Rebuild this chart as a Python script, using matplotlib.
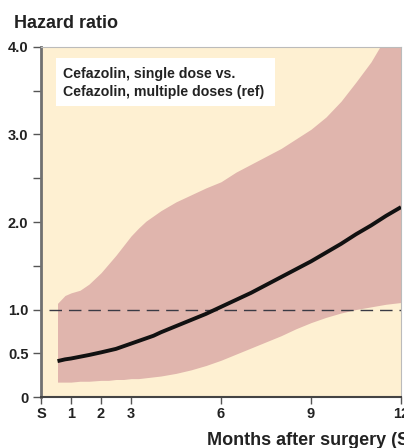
import matplotlib
matplotlib.use("Agg")
import matplotlib.pyplot as plt
from matplotlib.patches import Rectangle

# ---- data ----
months = [0.55, 0.8, 1.0, 1.3, 1.6, 2.0, 2.25, 2.5, 2.75, 3.0, 3.25, 3.5, 3.75, 4.0, 4.5, 5.0,
          5.5, 6.0, 6.5, 7.0, 7.5, 8.0, 8.5, 9.0, 9.5, 10.0, 10.5, 11.0, 11.5, 12.0]
hazard_ratio = [0.41, 0.43, 0.44, 0.46, 0.48, 0.51, 0.53, 0.55, 0.58, 0.61, 0.64, 0.67, 0.70,
                0.74, 0.81, 0.88, 0.95, 1.03, 1.11, 1.19, 1.28, 1.37, 1.46, 1.55, 1.65, 1.75,
                1.86, 1.96, 2.07, 2.17]
ci_lower = [0.17, 0.17, 0.17, 0.18, 0.18, 0.19, 0.19, 0.20, 0.20, 0.21, 0.21, 0.22, 0.23,
            0.24, 0.27, 0.31, 0.36, 0.42, 0.49, 0.56, 0.63, 0.70, 0.78, 0.85, 0.91, 0.96,
            1.00, 1.03, 1.06, 1.08]
ci_upper = [1.07, 1.16, 1.19, 1.22, 1.29, 1.42, 1.52, 1.62, 1.73, 1.84, 1.93, 2.01, 2.07,
            2.13, 2.23, 2.31, 2.39, 2.46, 2.57, 2.66, 2.75, 2.84, 2.95, 3.06, 3.20, 3.38,
            3.60, 3.83, 4.12, 4.75]
x_ticks = [0, 1, 2, 3, 6, 9, 12]
x_tick_labels = ["S", "1", "2", "3", "6", "9", "12"]
y_ticks = [0, 0.5, 1.0, 1.5, 2.0, 2.5, 3.0, 3.5, 4.0]
y_tick_labels = ["0", "0.5", "1.0", "", "2.0", "", "3.0", "", "4.0"]
reference_value = 1.0

title_text = "Hazard ratio"
xlabel_text = "Months after surgery (S = surgery)"
legend_text = "Cefazolin, single dose vs.\nCefazolin, multiple doses (ref)"

CREAM = "#FEF0D2"
BAND = "#E0B5AD"
FONT = "Liberation Sans"

fig = plt.figure(figsize=(4.04, 4.48), dpi=100)
ax = fig.add_axes([41/404, 51/448, 360/404, 350/448])
ax.set_facecolor(CREAM)

ax.fill_between(months, ci_lower, ci_upper, color=BAND, linewidth=0, zorder=1)
ax.axhline(reference_value, xmin=(49-41)/360, xmax=1, color="#3a3a44", linewidth=1.0,
           dashes=(9, 5), zorder=2)
ax.plot(months, hazard_ratio, color="#111111", linewidth=2.8, solid_capstyle="butt",
        solid_joinstyle="round", zorder=3)

ax.set_xlim(0, 12)
ax.set_ylim(0, 4.0)
ax.set_xticks(x_ticks)
ax.set_xticklabels(x_tick_labels)
ax.set_yticks(y_ticks)
ax.set_yticklabels(y_tick_labels)

for lab in ax.get_xticklabels() + ax.get_yticklabels():
    lab.set_fontfamily(FONT)
    lab.set_fontweight("bold")
    lab.set_fontsize(10.5)
    lab.set_color("#222222")

ax.tick_params(axis="y", direction="out", length=6, width=1, color="#555555", pad=3)
ax.tick_params(axis="x", direction="out", length=5, width=1, color="#555555", pad=2)

ax.spines["left"].set_color("#707070")
ax.spines["left"].set_linewidth(2.0)
ax.spines["bottom"].set_color("#444444")
ax.spines["bottom"].set_linewidth(1.5)
ax.spines["top"].set_color("#bbbbbb")
ax.spines["top"].set_linewidth(0.8)
ax.spines["right"].set_color("#bbbbbb")
ax.spines["right"].set_linewidth(0.8)

# legend box
ax.add_patch(Rectangle(((56-41)/360, (397-106)/350), (275-56)/360, (106-58)/350,
                       transform=ax.transAxes, facecolor="white", edgecolor="none", zorder=4))
ax.text((63-41)/360, (397-83)/350, legend_text, transform=ax.transAxes,
        ha="left", va="center", fontsize=10.2, fontfamily=FONT, fontweight="bold",
        color="#222222", linespacing=1.3, zorder=5)

fig.text(14/404, 1 - 23/448, title_text, ha="left", va="center", fontsize=13,
         fontfamily=FONT, fontweight="bold", color="#222222")
fig.text(207/404, 1 - 440/448, xlabel_text, ha="left", va="center", fontsize=13,
         fontfamily=FONT, fontweight="bold", color="#222222")

fig.savefig("out.png", dpi=100)
